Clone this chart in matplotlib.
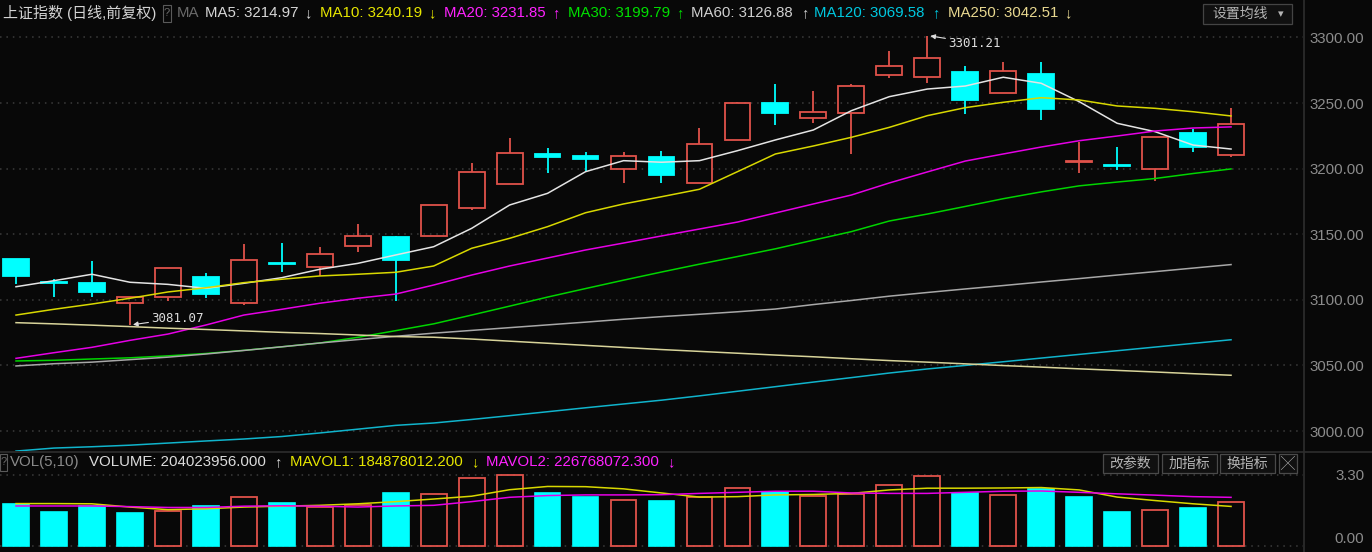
import matplotlib
matplotlib.use('Agg')
import matplotlib.pyplot as plt
from matplotlib.patches import Rectangle

plt.rcParams['font.family'] = ['Liberation Sans', 'Noto Sans CJK SC', 'DejaVu Sans']

# daily candles (price)
opens = [3131.1, 3113.6, 3112.8, 3097.6, 3102.2, 3117.4, 3097.6, 3127.8, 3125.0, 3141.0, 3147.9,
         3148.7, 3170.0, 3188.3, 3211.4, 3209.9, 3199.7, 3208.7, 3189.3, 3221.9, 3249.8, 3238.9,
         3242.7, 3271.4, 3270.1, 3273.7, 3257.9, 3271.9, 3205.1, 3202.8, 3199.7, 3227.0, 3210.2]
highs = [3131.1, 3115.7, 3129.6, 3102.5, 3124.5, 3120.4, 3142.6, 3143.3, 3140.3, 3157.8, 3148.7,
         3172.3, 3204.3, 3223.4, 3215.8, 3212.7, 3212.9, 3213.7, 3230.8, 3251.1, 3264.3, 3259.2,
         3264.3, 3290.0, 3301.21, 3278.3, 3281.3, 3281.3, 3220.6, 3216.5, 3223.9, 3230.5, 3246.0]
lows = [3111.8, 3102.4, 3102.2, 3081.07, 3099.1, 3101.4, 3096.1, 3121.2, 3118.2, 3136.5, 3099.1,
        3148.7, 3168.5, 3188.3, 3196.7, 3197.5, 3189.3, 3189.3, 3189.3, 3221.9, 3233.1, 3235.0,
        3211.2, 3269.4, 3265.5, 3241.4, 3257.9, 3236.9, 3196.7, 3198.8, 3190.8, 3212.9, 3209.1]
closes = [3118.4, 3113.2, 3106.0, 3102.2, 3124.3, 3104.4, 3130.4, 3127.3, 3134.9, 3148.7, 3130.4,
          3172.3, 3197.5, 3211.9, 3209.1, 3207.1, 3209.9, 3194.9, 3219.0, 3249.8, 3242.7, 3243.0,
          3263.0, 3278.3, 3284.1, 3252.4, 3274.5, 3245.3, 3205.5, 3202.4, 3223.9, 3216.8, 3234.3]

# moving averages
ma5 = [3110.0, 3114.6, 3119.5, 3113.4, 3111.8, 3108.8, 3112.6, 3116.9, 3123.3, 3127.8, 3134.2,
       3140.5, 3154.5, 3172.3, 3181.2, 3197.7, 3206.1, 3204.9, 3206.1, 3213.7, 3221.9, 3229.5,
       3244.2, 3254.9, 3260.7, 3263.0, 3269.7, 3265.1, 3251.1, 3234.6, 3228.2, 3218.0, 3214.97]
ma10 = [3088.4, 3092.8, 3096.8, 3101.2, 3106.0, 3109.2, 3113.1, 3115.7, 3118.2, 3119.5, 3121.0,
        3125.8, 3139.3, 3146.9, 3155.8, 3166.4, 3173.1, 3178.6, 3184.3, 3197.7, 3211.2, 3217.3,
        3223.9, 3231.5, 3240.4, 3246.5, 3250.6, 3254.1, 3252.4, 3247.8, 3246.0, 3243.4, 3240.19]
ma20 = [3055.4, 3059.7, 3063.8, 3069.1, 3073.9, 3080.8, 3088.4, 3092.8, 3097.4, 3101.2, 3104.4,
        3111.3, 3118.9, 3125.8, 3131.9, 3138.0, 3143.3, 3148.7, 3154.0, 3159.3, 3166.2, 3173.1,
        3179.9, 3189.1, 3197.5, 3205.8, 3211.2, 3216.5, 3221.3, 3224.9, 3228.7, 3231.0, 3231.85]
ma30 = [3053.4, 3053.9, 3054.9, 3055.8, 3057.3, 3059.1, 3061.5, 3064.2, 3067.1, 3071.4, 3076.5,
        3081.7, 3088.4, 3095.2, 3102.1, 3108.6, 3115.0, 3121.2, 3127.2, 3133.0, 3138.9, 3145.5,
        3152.0, 3160.1, 3165.4, 3171.2, 3177.1, 3182.3, 3186.9, 3189.8, 3192.5, 3196.3, 3199.79]
ma60 = [3049.6, 3051.3, 3052.5, 3054.4, 3056.3, 3058.7, 3061.4, 3064.2, 3067.1, 3069.7, 3072.2,
        3074.6, 3076.7, 3078.8, 3080.9, 3083.0, 3085.2, 3087.2, 3089.0, 3090.9, 3093.0, 3096.4,
        3099.5, 3102.8, 3105.6, 3108.3, 3110.9, 3113.6, 3116.2, 3118.9, 3121.5, 3124.2, 3126.88]
ma120 = [2984.7, 2987.0, 2988.0, 2989.2, 2990.8, 2992.4, 2993.9, 2995.8, 2998.5, 3001.4, 3004.3,
         3006.1, 3008.8, 3011.7, 3014.7, 3017.7, 3020.6, 3023.5, 3026.8, 3030.3, 3033.8, 3037.3,
         3040.7, 3044.2, 3047.3, 3050.0, 3052.8, 3055.6, 3058.4, 3061.2, 3064.0, 3066.8, 3069.58]
ma250 = [3082.6, 3081.7, 3080.7, 3079.6, 3078.4, 3077.4, 3076.3, 3075.2, 3074.3, 3073.2, 3072.0,
         3071.5, 3070.1, 3068.5, 3066.9, 3065.3, 3063.7, 3062.1, 3060.7, 3059.3, 3057.9, 3056.6,
         3055.1, 3053.7, 3052.5, 3051.2, 3049.9, 3048.7, 3047.4, 3046.2, 3045.0, 3043.7, 3042.51]

# volume (x 1e8) and its averages
volume = [1.95, 1.59, 1.86, 1.53, 1.65, 1.88, 2.27, 1.99, 1.82, 1.92, 2.45, 2.44, 3.15, 3.30, 2.45,
          2.28, 2.16, 2.11, 2.28, 2.69, 2.52, 2.34, 2.42, 2.85, 3.25, 2.47, 2.39, 2.67, 2.28, 1.59,
          1.70, 1.76, 2.04023956]
vol_up = [0, 0, 0, 0, 1, 0, 1, 0, 1, 1, 0, 1, 1, 1, 0, 0, 1, 0, 1, 1, 0, 1, 1, 1, 1, 0, 1, 0, 0, 0,
          1, 0, 1]
mavol1 = [1.98, 1.98, 1.97, 1.82, 1.70, 1.74, 1.82, 1.86, 1.90, 1.97, 2.07, 2.19, 2.32, 2.62, 2.77,
          2.76, 2.66, 2.47, 2.28, 2.30, 2.38, 2.40, 2.45, 2.61, 2.69, 2.69, 2.70, 2.72, 2.61, 2.28,
          2.12, 1.97, 1.848780122]
mavol2 = [1.87, 1.87, 1.87, 1.84, 1.80, 1.80, 1.86, 1.88, 1.86, 1.82, 1.87, 1.90, 2.07, 2.27, 2.35,
          2.38, 2.38, 2.39, 2.45, 2.50, 2.55, 2.55, 2.47, 2.45, 2.45, 2.50, 2.55, 2.56, 2.50, 2.43,
          2.37, 2.30, 2.267680723]

price_ticks = [3000, 3050, 3100, 3150, 3200, 3250, 3300]
vol_ticks = [0.0, 3.30]

BG = '#080808'
RED = '#e0524a'
CYAN = '#00ffff'
GRID = '#3c3c3c'
LBL = '#8c8c8c'

W, H = 1372, 552
fig = plt.figure(figsize=(W / 100, H / 100), dpi=100, facecolor=BG)


def box(x0, y0, x1, y1):
    return [x0 / W, 1 - y1 / H, (x1 - x0) / W, (y1 - y0) / H]


ax = fig.add_axes(box(0, 28, 1303, 451))
axv = fig.add_axes(box(0, 452, 1303, 552))
n = len(closes)
x = list(range(n))
w = 0.68

for a in (ax, axv):
    a.set_facecolor(BG)
    for s in a.spines.values():
        s.set_visible(False)
    a.set_xlim(-0.4214, 33.895)
    a.set_xticks([])
    a.yaxis.tick_right()
    a.tick_params(axis='y', length=0, labelsize=10.8, labelcolor=LBL, pad=44)
    a.grid(axis='y', color=GRID, linestyle=(0, (1, 3.2)), linewidth=1.1)
    a.set_axisbelow(True)

# candles
for i in range(n):
    o, h, l, c = opens[i], highs[i], lows[i], closes[i]
    if c >= o:
        ax.vlines(i, c, h, color=RED, lw=1.3, zorder=2)
        ax.vlines(i, l, o, color=RED, lw=1.3, zorder=2)
        ax.add_patch(Rectangle((i - w / 2, o), w, max(c - o, 0.3), facecolor='none',
                               edgecolor=RED, lw=1.3, zorder=2))
    else:
        ax.vlines(i, l, h, color=CYAN, lw=1.3, zorder=2)
        ax.add_patch(Rectangle((i - w / 2, c), w, max(o - c, 0.3), facecolor=CYAN,
                               edgecolor=CYAN, lw=1.3, zorder=2))

ma_lines = [(ma5, '#e4e4e4'), (ma10, '#d8d800'), (ma20, '#e600e6'), (ma30, '#00d400'),
            (ma60, '#a8a8a8'), (ma120, '#10b4cc'), (ma250, '#d8d49a')]
for vals, col in ma_lines:
    ax.plot(x, vals, color=col, lw=1.1, zorder=3)

ax.set_ylim(2984.76, 3307.24)
ax.set_yticks(price_ticks)
ax.set_yticklabels([f'{v:.2f}' for v in price_ticks])
for t in ax.get_yticklabels():
    t.set_ha('right')

hi = highs.index(max(highs))
lo = lows.index(min(lows))
ax.annotate(f'{highs[hi]:.2f}', xy=(hi + 0.08, highs[hi]), xytext=(hi + 0.55, 3295.7),
            color='#dedede', fontsize=9, family='DejaVu Sans Mono', va='center', ha='left',
            arrowprops=dict(arrowstyle='-|>', color='#dedede', lw=0.8, shrinkA=0, shrinkB=0,
                            mutation_scale=7), zorder=4)
ax.annotate(f'{lows[lo]:.2f}', xy=(lo + 0.08, lows[lo]), xytext=(lo + 0.56, 3085.9),
            color='#dedede', fontsize=9, family='DejaVu Sans Mono', va='center', ha='left',
            arrowprops=dict(arrowstyle='-|>', color='#dedede', lw=0.8, shrinkA=0, shrinkB=0,
                            mutation_scale=7), zorder=4)

# volume panel
up_x = [i for i in x if vol_up[i]]
dn_x = [i for i in x if not vol_up[i]]
axv.bar(dn_x, [volume[i] for i in dn_x], width=w, color=CYAN, edgecolor=CYAN, lw=1.2, zorder=2)
axv.bar(up_x, [volume[i] for i in up_x], width=w, facecolor='none', edgecolor=RED, lw=1.3,
        zorder=2)
axv.plot(x, mavol1, color='#d8d800', lw=1.1, zorder=3)
axv.plot(x, mavol2, color='#e600e6', lw=1.1, zorder=3)
axv.set_ylim(-0.254, 4.36)
axv.set_yticks(vol_ticks)
axv.set_yticklabels([f'{v:.2f}' for v in vol_ticks])
for t in axv.get_yticklabels():
    t.set_ha('right')
axv.get_yticklabels()[0].set_va('bottom')

# overlay in pixel coordinates for the header texts and buttons
ov = fig.add_axes([0, 0, 1, 1], facecolor='none')
ov.set_xlim(0, W)
ov.set_ylim(H, 0)
ov.axis('off')
ov.plot([1303.5, 1303.5], [0, H], color='#2e2e2e', lw=1.2)
ov.plot([0, W], [451.5, 451.5], color='#2e2e2e', lw=1.2)

FS = 10.8
ov.text(3, 13, '上证指数 (日线,前复权)', color='#d4d4d4', fontsize=FS, va='center')
ov.add_patch(Rectangle((163, 5), 8, 17, facecolor='none', edgecolor='#5a5a5a', lw=0.8))
ov.text(167, 13.5, '?', color='#6a6a6a', fontsize=8, va='center', ha='center')
ov.text(177, 13, 'MA', color='#6a6a6a', fontsize=FS, va='center')

header = [('MA5', ma5, 205, 308, '#d6d6d6'),
          ('MA10', ma10, 320, 432, '#e6e600'),
          ('MA20', ma20, 444, 556, '#ff22ff'),
          ('MA30', ma30, 568, 680, '#00e000'),
          ('MA60', ma60, 691, 805, '#cfcfcf'),
          ('MA120', ma120, 814, 936, '#00c8e0'),
          ('MA250', ma250, 948, 1068, '#e8d890')]
for name, vals, xt, xa, col in header:
    ov.text(xt, 13, f'{name}: {vals[-1]:.2f}', color=col, fontsize=FS, va='center')
    arrow = '↑' if vals[-1] >= vals[-2] else '↓'
    ov.text(xa, 13.5, arrow, color=col, fontsize=FS, va='center', ha='center')

ov.add_patch(Rectangle((1203, 4), 89, 20, facecolor='#101010', edgecolor='#444444', lw=0.9))
ov.text(1240, 14, '设置均线', color='#b4b4b4', fontsize=10, va='center', ha='center')
ov.text(1281, 14, '▾', color='#b4b4b4', fontsize=8, va='center', ha='center')

# volume header
vy = 462
ov.add_patch(Rectangle((0, 454), 7, 17, facecolor='none', edgecolor='#5a5a5a', lw=0.8))
ov.text(3.5, vy, '?', color='#6a6a6a', fontsize=8, va='center', ha='center')
ov.text(10, vy, 'VOL(5,10)', color='#8a8a8a', fontsize=FS, va='center')
ov.text(89, vy, f'VOLUME: {volume[-1] * 1e8:.3f}', color='#dcdcdc', fontsize=FS, va='center')
ov.text(278, vy, '↑', color='#dcdcdc', fontsize=FS, va='center', ha='center')
ov.text(290, vy, f'MAVOL1: {mavol1[-1] * 1e8:.3f}', color='#e6e600', fontsize=FS, va='center')
ov.text(475, vy, '↓', color='#e6e600', fontsize=FS, va='center', ha='center')
ov.text(486, vy, f'MAVOL2: {mavol2[-1] * 1e8:.3f}', color='#ff22ff', fontsize=FS, va='center')
ov.text(671, vy, '↓', color='#ff22ff', fontsize=FS, va='center', ha='center')

buttons = [('改参数', 1103, 1158), ('加指标', 1162, 1217), ('换指标', 1220, 1275), ('╳', 1279, 1297)]
for label, x0, x1 in buttons:
    ov.add_patch(Rectangle((x0, 454), x1 - x0, 19, facecolor='#101010', edgecolor='#4a4a4a',
                           lw=0.9))
    ov.text((x0 + x1) / 2, 463.5, label, color='#b4b4b4', fontsize=10, va='center', ha='center')

fig.savefig('out.png', dpi=100, facecolor=BG)
